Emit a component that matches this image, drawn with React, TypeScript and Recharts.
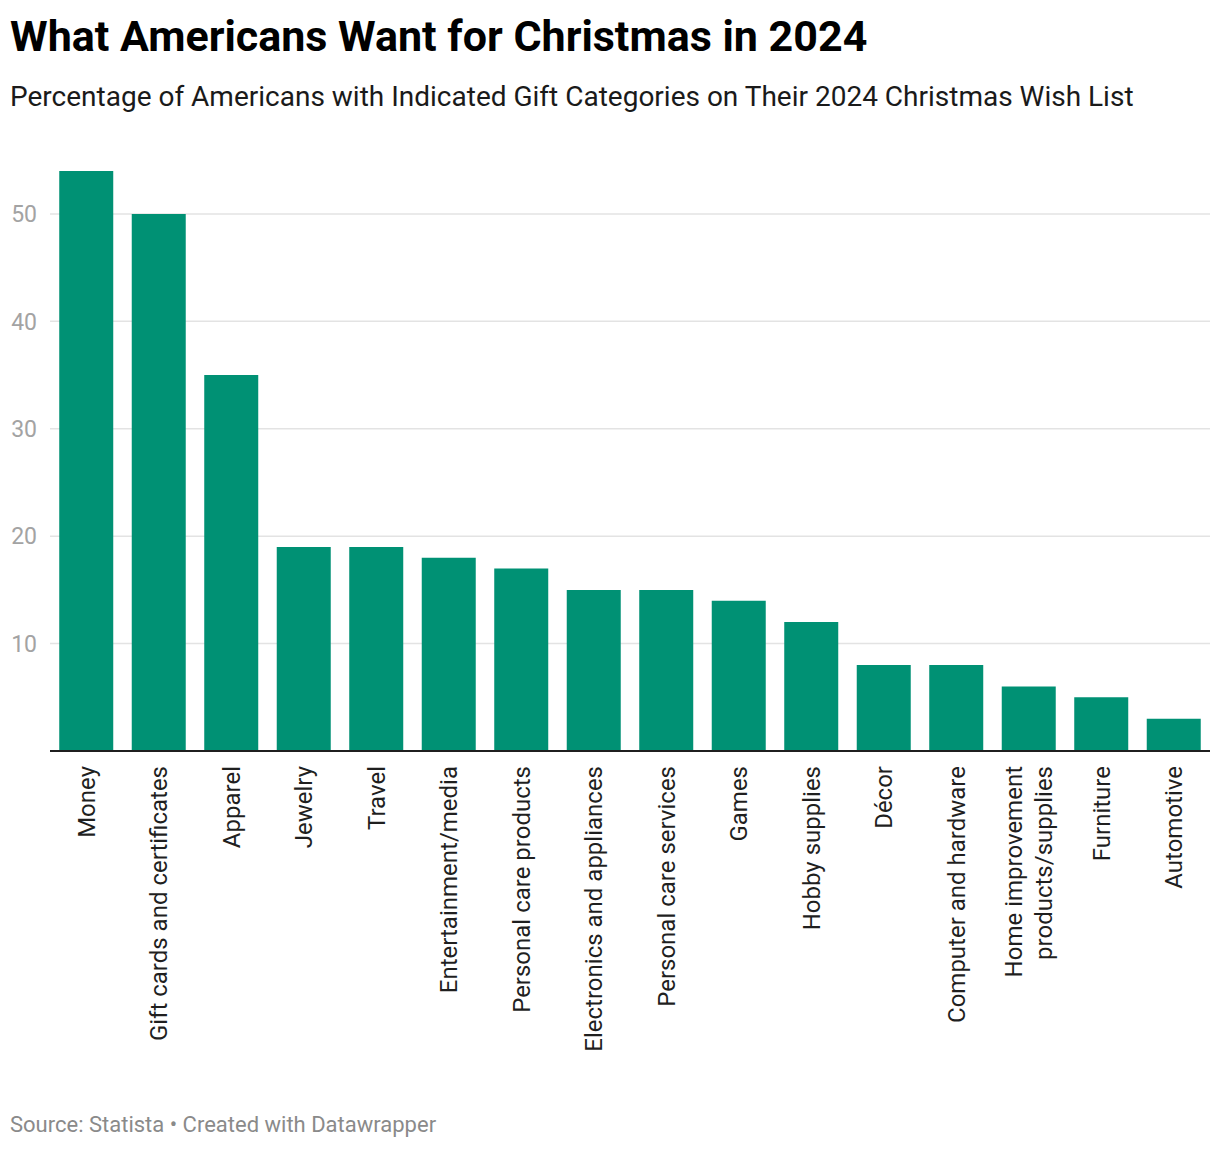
import { Bar, BarChart, CartesianGrid, XAxis, YAxis } from "recharts";

const categories = [
  "Money",
  "Gift cards and certificates",
  "Apparel",
  "Jewelry",
  "Travel",
  "Entertainment/media",
  "Personal care products",
  "Electronics and appliances",
  "Personal care services",
  "Games",
  "Hobby supplies",
  "Décor",
  "Computer and hardware",
  "Home improvement\nproducts/supplies",
  "Furniture",
  "Automotive",
];

const shares = [54, 50, 35, 19, 19, 18, 17, 15, 15, 14, 12, 8, 8, 6, 5, 3];

const yTicks = [10, 20, 30, 40, 50];

const data = categories.map((name, i) => ({ name, value: shares[i] }));

const FONT = "Roboto, 'Noto Sans', sans-serif";
const GREEN = "#009174";

function CategoryTick(props: any) {
  const { x, y, payload } = props;
  const lines: string[] = String(payload.value).split("\n");
  const step = 30;
  const start = -((lines.length - 1) * step) / 2;
  return (
    <g>
      {lines.map((line, i) => (
        <text
          key={i}
          transform={`translate(${x + start + i * step},${y}) rotate(-90)`}
          textAnchor="end"
          dy="0.36em"
          fill="#1f1f1f"
          fontSize={24}
          fontFamily={FONT}
        >
          {line}
        </text>
      ))}
    </g>
  );
}

export default function App() {
  return (
    <div
      style={{
        position: "absolute",
        left: 0,
        top: 0,
        width: 1220,
        height: 1150,
        background: "#fff",
        fontFamily: FONT,
      }}
    >
      <div
        style={{
          position: "absolute",
          left: 10,
          top: 15,
          fontSize: 43,
          lineHeight: 1,
          fontWeight: 700,
          color: "#000",
          whiteSpace: "nowrap",
        }}
      >
        What Americans Want for Christmas in 2024
      </div>
      <div
        style={{
          position: "absolute",
          left: 10,
          top: 83,
          fontSize: 28,
          lineHeight: 1,
          color: "#1a1a1a",
          whiteSpace: "nowrap",
        }}
      >
        Percentage of Americans with Indicated Gift Categories on Their 2024
        Christmas Wish List
      </div>

      <div style={{ position: "absolute", left: 0, top: 0 }}>
        <BarChart
          width={1220}
          height={1080}
          data={data}
          margin={{ top: 171, right: 10, left: 2, bottom: 29 }}
          barCategoryGap="12.75%"
        >
          <CartesianGrid
            vertical={false}
            syncWithTicks
            stroke="#e3e3e3"
            strokeWidth={1.5}
          />
          <YAxis
            width={48}
            domain={[0, 54]}
            ticks={yTicks}
            allowDataOverflow
            axisLine={false}
            tickLine={false}
            tickSize={0}
            tickMargin={13}
            tick={{ fill: "#a3a3a3", fontSize: 23, fontFamily: FONT }}
          />
          <XAxis
            dataKey="name"
            height={300}
            interval={0}
            tickLine={false}
            tickSize={0}
            tickMargin={15}
            axisLine={{ stroke: "#1f1f1f", strokeWidth: 2 }}
            tick={<CategoryTick />}
          />
          <Bar dataKey="value" fill={GREEN} isAnimationActive={false} />
        </BarChart>
      </div>

      <div
        style={{
          position: "absolute",
          left: 10,
          top: 1114,
          fontSize: 22,
          lineHeight: 1,
          color: "#8a8a8a",
          whiteSpace: "nowrap",
        }}
      >
        Source: Statista • Created with Datawrapper
      </div>
    </div>
  );
}
